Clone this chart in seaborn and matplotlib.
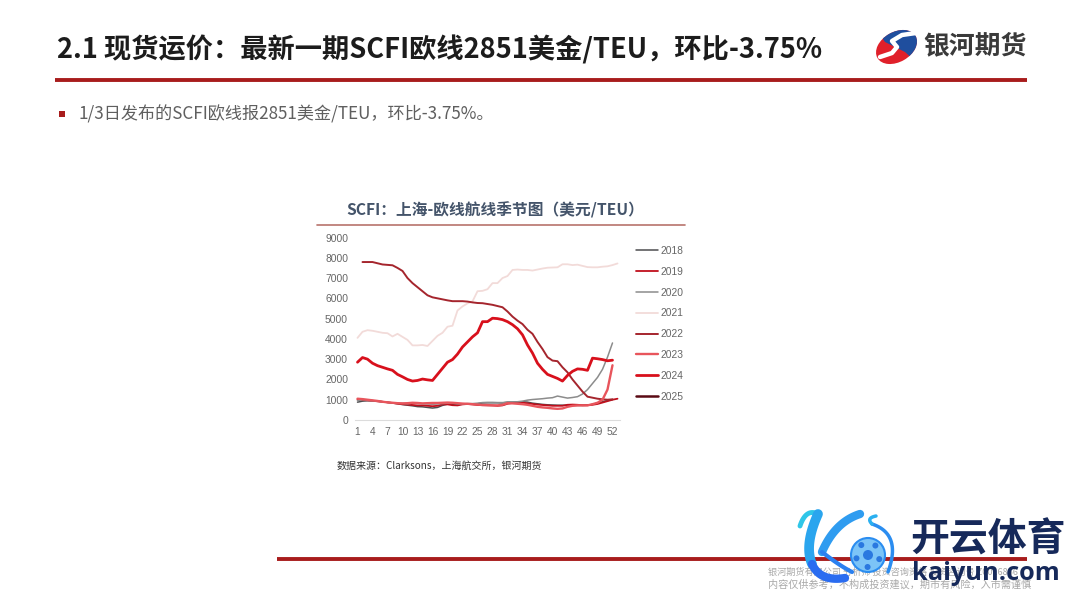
import numpy as np
import pandas as pd
import matplotlib
matplotlib.use('Agg')
import matplotlib.pyplot as plt
import seaborn as sns
from matplotlib.patches import Ellipse, Circle, Polygon, Rectangle

weeks = list(range(1, 54))
nan = np.nan

y2018 = [880, 930, 950, 950, 930, 900, 870, 840, 800, 760, 730, 700, 660, 650, 620, 590, 620, 720, 780, 780,
         760, 790, 800, 790, 800, 840, 850, 850, 850, 840, 880, 880, 880, 900, 880, 830, 800, 770, 750, 740,
         730, 730, 730, 720, 720, 720, 730, 770, 830, 900, 960, 1010, nan]
y2019 = [1000, 990, 970, 950, 920, 900, 870, 840, 810, 780, 760, 740, 720, 720, 700, 680, 700, 770, 770, 730,
         720, 770, 790, 770, 740, 730, 720, 720, 700, 720, 800, 840, 870, 860, 820, 790, 760, 740, 720, 700,
         700, 700, 750, 760, 750, 730, 730, 750, 790, 860, 930, 1000, 1050]
y2020 = [950, 1000, 980, 950, 930, 900, 870, 840, 830, 820, 800, 830, 820, 800, 790, 780, 790, 810, 830, 830,
         800, 790, 810, 810, 830, 860, 870, 870, 860, 860, 880, 890, 900, 930, 980, 1010, 1030, 1050, 1080, 1100,
         1180, 1130, 1080, 1110, 1150, 1280, 1500, 1800, 2100, 2500, 3100, 3800, nan]
y2021 = [4050, 4350, 4430, 4400, 4350, 4300, 4280, 4120, 4250, 4100, 3950, 3680, 3680, 3700, 3650, 3900, 4150, 4300,
         4600, 4650, 5400, 5600, 5750, 5850, 6350, 6370, 6450, 6750, 6750, 7000, 7100, 7400, 7420, 7400, 7400, 7370,
         7420, 7470, 7510, 7520, 7530, 7680, 7680, 7640, 7660, 7600, 7540, 7530, 7530, 7560, 7580, 7640, 7720]
y2022 = [nan, 7790, 7790, 7790, 7730, 7670, 7650, 7630, 7500, 7350, 7000, 6750, 6550, 6350, 6150, 6050, 6000, 5950,
         5900, 5860, 5860, 5860, 5840, 5800, 5770, 5760, 5720, 5680, 5620, 5560, 5350, 5100, 4900, 4730, 4450, 4250,
         3850, 3500, 3100, 2930, 2900, 2600, 2350, 2000, 1700, 1400, 1150, 1100, 1050, 1020, 1000, 1020, nan]
y2023 = [1050, 1030, 1000, 970, 940, 900, 870, 850, 830, 820, 830, 850, 840, 820, 830, 840, 840, 850, 860, 850,
         830, 810, 800, 780, 760, 740, 740, 720, 720, 750, 830, 820, 800, 780, 750, 700, 650, 620, 600, 570,
         550, 570, 650, 700, 720, 720, 720, 780, 850, 1000, 1500, 2700, nan]
y2024 = [2850, 3080, 3000, 2800, 2680, 2600, 2520, 2450, 2250, 2130, 2000, 1920, 1950, 2020, 1980, 1950, 2250, 2550,
         2850, 2980, 3250, 3600, 3850, 4100, 4300, 4850, 4850, 5020, 5000, 4950, 4850, 4700, 4500, 4200, 3700, 3300,
         2800, 2500, 2250, 2150, 2050, 1920, 2200, 2400, 2520, 2500, 2450, 3050, 3020, 2980, 2920, 2950, nan]
y2025 = [2851] + [nan] * 52

years = ['2018', '2019', '2020', '2021', '2022', '2023', '2024', '2025']
series = [y2018, y2019, y2020, y2021, y2022, y2023, y2024, y2025]
line_colors = ['#4d4d4f', '#c00f1c', '#8c8c8c', '#f2dbd9', '#a5252d', '#e8555c', '#d8101c', '#5a0a14']
line_widths = [1.1, 1.3, 1.1, 1.3, 1.4, 1.7, 2.0, 1.8]

df = pd.DataFrame({
    'week': np.tile(weeks, len(years)),
    'year': np.repeat(years, len(weeks)),
    'value': np.concatenate(series),
})

sns.set_theme(style='white')
plt.rcParams['font.family'] = ['Noto Sans CJK SC', 'DejaVu Sans']

fig = plt.figure(figsize=(10.8, 6.08), dpi=100)
W, H = 1080, 608

# page layer in pixel coordinates
bg = fig.add_axes([0, 0, 1, 1], zorder=0)
bg.set_xlim(0, W)
bg.set_ylim(H, 0)
bg.axis('off')

bg.text(57, 50, '2.1 现货运价：最新一期SCFI欧线2851美金/TEU，环比-3.75%', fontsize=19.6,
        fontweight='bold', color='#1c1c1c', va='center')
bg.plot([55, 1027], [80, 80], color='#a81c1c', lw=2.8, solid_capstyle='butt')
bg.add_patch(Rectangle((59, 111), 6, 6, color='#a81c1c', lw=0))
bg.text(78, 114, '1/3日发布的SCFI欧线报2851美金/TEU，环比-3.75%。', fontsize=12.3, color='#5f5f5f', va='center')

bg.text(495, 210, 'SCFI：上海-欧线航线季节图（美元/TEU）', fontsize=11.3, fontweight='bold',
        color='#44546a', ha='center', va='center')
bg.plot([317, 685], [224.5, 224.5], color='#b8736c', lw=1.2)
bg.text(337, 466, '数据来源：Clarksons，上海航交所，银河期货', fontsize=7.2, color='#333333', va='center')

bg.plot([277, 1027], [559, 559], color='#a81c1c', lw=2.8, solid_capstyle='butt')
bg.text(768, 572.5, '银河期货有限公司 分析师 投资咨询资格 投资咨询号 Z0016866', fontsize=6.6, color='#a8a8a8', va='center')
bg.text(768, 584.5, '内容仅供参考，不构成投资建议，期市有风险，入市需谨慎', fontsize=7.3, color='#a8a8a8', va='center')

# galaxy futures logo
red_part = Ellipse((896.5, 47), 44, 30, angle=-30, color='#e0202a', lw=0)
bg.add_patch(red_part)
blue_part = Ellipse((896.5, 47), 44, 30, angle=-30, color='#1f4e9e', lw=0)
bg.add_patch(blue_part)
blue_part.set_clip_path(Polygon([(870, 20), (925, 20), (925, 70), (905, 52), (885, 42)], transform=bg.transData))
bg.plot([880, 892, 897, 892, 902, 916], [57, 53, 47, 41, 35, 33], color='white', lw=3.2, solid_capstyle='round')
bg.text(923, 46, '银河期货', fontsize=18.6, fontweight='bold', color='#3a3a3a', va='center')

# kaiyun watermark
t = np.linspace(0, 1, 40)
def curve(p0, p1, p2, color, lw):
    xs = (1 - t) ** 2 * p0[0] + 2 * t * (1 - t) * p1[0] + t ** 2 * p2[0]
    ys = (1 - t) ** 2 * p0[1] + 2 * t * (1 - t) * p1[1] + t ** 2 * p2[1]
    bg.plot(xs, ys, color=color, lw=lw, solid_capstyle='round', zorder=5)

curve((800, 526), (806, 508), (818, 514), '#2fc6e8', 3.5)
curve((818, 514), (804, 545), (812, 564), '#2aa5ee', 7)
curve((812, 564), (820, 582), (845, 578), '#2a6cf0', 6)
curve((860, 514), (835, 522), (822, 552), '#2f9cf0', 6)
curve((822, 552), (840, 566), (852, 572), '#2a80f0', 3)
curve((872, 524), (902, 534), (888, 572), '#2b8df0', 2.5)
curve((872, 524), (866, 518), (876, 516), '#2bb0f0', 2.5)
bg.add_patch(Circle((868, 555), 17, facecolor='#7cc4f7', edgecolor='#2b8df0', lw=1.5, zorder=6))
bg.add_patch(Circle((868, 555), 5, facecolor='#2a78e0', lw=0, zorder=7))
for a in np.arange(0, 360, 72):
    bg.add_patch(Circle((868 + 12 * np.cos(np.radians(a + 20)), 555 + 12 * np.sin(np.radians(a + 20))), 3,
                        facecolor='#2a78e0', lw=0, zorder=7))
bg.text(910, 540, '开云体育', fontsize=28, fontweight='bold', color='#16295a', va='center', zorder=8)
bg.text(912, 574, 'kaiyun.com', fontsize=18.3, fontweight='bold', color='#16295a', va='center', zorder=8,
        family=['Open Sans'])

# chart
ax = fig.add_axes([355 / W, 1 - 420 / H, (620 - 355) / W, (420 - 237.5) / H], zorder=2)
ax.patch.set_alpha(0)
sns.lineplot(data=df, x='week', y='value', hue='year', hue_order=years, palette=line_colors, ax=ax,
             errorbar=None, estimator=None, sort=False, legend=False)
for line, lw in zip(ax.get_lines(), line_widths):
    line.set_linewidth(lw)

ax.set_xlim(0.5, 53.5)
ax.set_ylim(0, 9000)
ax.set_xticks(weeks[::3])
ax.set_yticks(range(0, 10000, 1000))
ax.set_xlabel('')
ax.set_ylabel('')
ax.tick_params(axis='both', length=0, labelsize=7.4, labelcolor='#666666')
for lab in ax.get_xticklabels() + ax.get_yticklabels():
    lab.set_family('Liberation Sans')
ax.tick_params(axis='x', pad=5)
ax.tick_params(axis='y', pad=5)
for s in ['top', 'right', 'left']:
    ax.spines[s].set_visible(False)
ax.spines['bottom'].set_color('#dcdcdc')
ax.spines['bottom'].set_linewidth(0.8)
ax.grid(False)

handles = [plt.Line2D([], [], color=c, lw=lw) for c, lw in zip(line_colors, line_widths)]
fig.legend(handles, years, loc='upper left', bbox_to_anchor=(633 / W, 1 - 243 / H), frameon=False,
           prop={'family': 'Liberation Sans', 'size': 7.4}, labelcolor='#666666', handlelength=2.15,
           handletextpad=0.25, labelspacing=1.05, borderpad=0, borderaxespad=0.3)

fig.savefig('out.png', dpi=100)
